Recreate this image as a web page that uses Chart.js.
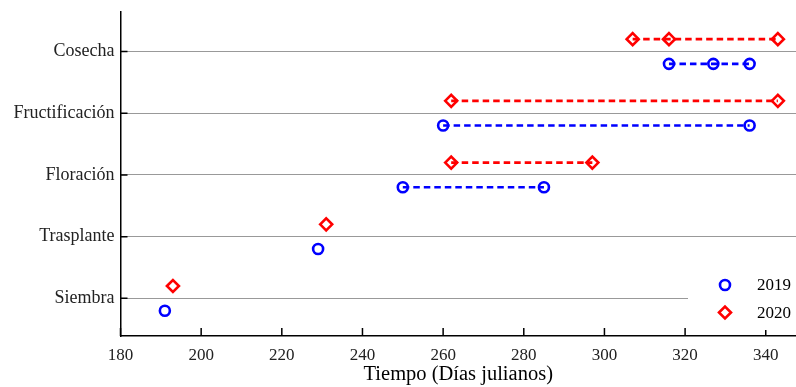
<!DOCTYPE html>
<html>
<head>
<meta charset="utf-8">
<script src="https://cdn.jsdelivr.net/npm/chart.js"></script>
<style>
  html, body { margin: 0; padding: 0; background: #fff; }
  #fenologia { display: block; }
</style>
</head>
<body>
<canvas id="fenologia" width="796" height="387"></canvas>
<script>
    // Etapas fenológicas (de abajo hacia arriba) y días julianos de cada una
    const fases = ['Siembra', 'Trasplante', 'Floración', 'Fructificación', 'Cosecha'];
    const dias2019 = [[191], [229], [250, 285], [260, 336], [316, 327, 336]];
    const dias2020 = [[193], [231], [262, 297], [262, 343], [307, 316, 343]];
    const anios = ['2019', '2020'];
    const ticksX = [180, 200, 220, 240, 260, 280, 300, 320, 340];

    const fuente = '"Liberation Serif", "Times New Roman", serif';

    // una serie por etapa para que la línea punteada no una etapas distintas
    function series(dias, desfase, color, marcador, radio) {
        return dias.map((d, i) => ({
            label: i === 0 ? anios[desfase > 0 ? 1 : 0] : '',
            data: d.map(x => ({ x: x, y: i + 1 + desfase })),
            showLine: true,
            borderColor: color,
            borderWidth: 2.6,
            borderDash: [6.5, 4],
            pointStyle: marcador,
            pointRadius: radio,
            pointBorderWidth: 2.6,
            pointBorderColor: color,
            pointBackgroundColor: 'rgba(0,0,0,0)',
            clip: false
        }));
    }

    const datasets = [
        ...series(dias2019, -0.2, '#0000ff', 'circle', 5),
        ...series(dias2020, 0.2, '#ff0000', 'rectRot', 6)
    ];

    // marcas de graduación hacia dentro, como en las figuras de MATLAB
    const marcasInternas = {
        id: 'marcasInternas',
        afterDatasetsDraw(chart) {
            const { ctx, chartArea, scales } = chart;
            ctx.save();
            ctx.strokeStyle = '#000';
            ctx.lineWidth = 1.5;
            ctx.beginPath();
            scales.x.ticks.forEach(t => {
                const px = scales.x.getPixelForValue(t.value);
                ctx.moveTo(px, chartArea.bottom);
                ctx.lineTo(px, chartArea.bottom - 8);
            });
            scales.y.ticks.forEach(t => {
                const py = scales.y.getPixelForValue(t.value);
                ctx.moveTo(chartArea.left, py);
                ctx.lineTo(chartArea.left + 7, py);
            });
            ctx.stroke();
            ctx.restore();
        }
    };

    // leyenda sin borde con fondo blanco en la esquina inferior derecha
    const leyenda = {
        id: 'leyenda',
        afterDatasetsDraw(chart) {
            const { ctx, chartArea } = chart;
            const x0 = chartArea.right - 108, y0 = chartArea.bottom - 68;
            ctx.save();
            ctx.fillStyle = '#fff';
            ctx.fillRect(x0, y0, 108, 62);
            const items = [
                { texto: anios[0], color: '#0000ff', estilo: 'circle', r: 5 },
                { texto: anios[1], color: '#ff0000', estilo: 'rectRot', r: 6 }
            ];
            items.forEach((it, k) => {
                const y = y0 + 17 + k * 27.5;
                ctx.strokeStyle = it.color;
                ctx.fillStyle = 'rgba(0,0,0,0)';
                ctx.lineWidth = 2.6;
                Chart.helpers.drawPoint(ctx, { pointStyle: it.estilo, radius: it.r, borderWidth: 2.6 }, x0 + 37, y);
                ctx.fillStyle = '#000';
                ctx.font = '17px ' + fuente;
                ctx.textBaseline = 'middle';
                ctx.fillText(it.texto, x0 + 69, y + 1);
            });
            ctx.restore();
        }
    };

    const ctx = document.getElementById('fenologia').getContext('2d');

    new Chart(ctx, {
        type: 'scatter',
        data: { datasets: datasets },
        options: {
            responsive: false,
            animation: false,
            layout: { autoPadding: false, padding: { top: 12, right: 0, left: 0, bottom: 0 } },
            plugins: { legend: { display: false }, tooltip: { enabled: false } },
            scales: {
                x: {
                    type: 'linear',
                    min: 180,
                    max: 347.5,
                    afterBuildTicks: scale => { scale.ticks = ticksX.map(v => ({ value: v })); },
                    afterFit: scale => {
                        scale.height = 51;
                        scale.paddingLeft = 0;
                        scale.paddingRight = 0;
                    },
                    grid: { display: false, drawTicks: false },
                    border: { display: true, color: '#000', width: 1.5 },
                    ticks: {
                        color: '#222',
                        padding: 9,
                        maxRotation: 0,
                        font: { family: fuente, size: 17 }
                    },
                    title: {
                        display: true,
                        text: 'Tiempo (Días julianos)',
                        color: '#000',
                        padding: { top: 0, bottom: 0 },
                        font: { family: fuente, size: 20.5 }
                    }
                },
                y: {
                    type: 'linear',
                    min: 0.39,
                    max: 5.64,
                    afterBuildTicks: scale => { scale.ticks = fases.map((f, i) => ({ value: i + 1 })); },
                    afterFit: scale => {
                        scale.width = 120.5;
                        scale.paddingTop = 0;
                        scale.paddingBottom = 0;
                    },
                    grid: { color: '#333', lineWidth: 1, drawTicks: false },
                    border: { display: true, color: '#000', width: 1.5, dash: [1, 1] },
                    ticks: {
                        color: '#222',
                        padding: 6,
                        font: { family: fuente, size: 18 },
                        callback: v => fases[v - 1]
                    }
                }
            }
        },
        plugins: [marcasInternas, leyenda]
    });
</script>
</body>
</html>
